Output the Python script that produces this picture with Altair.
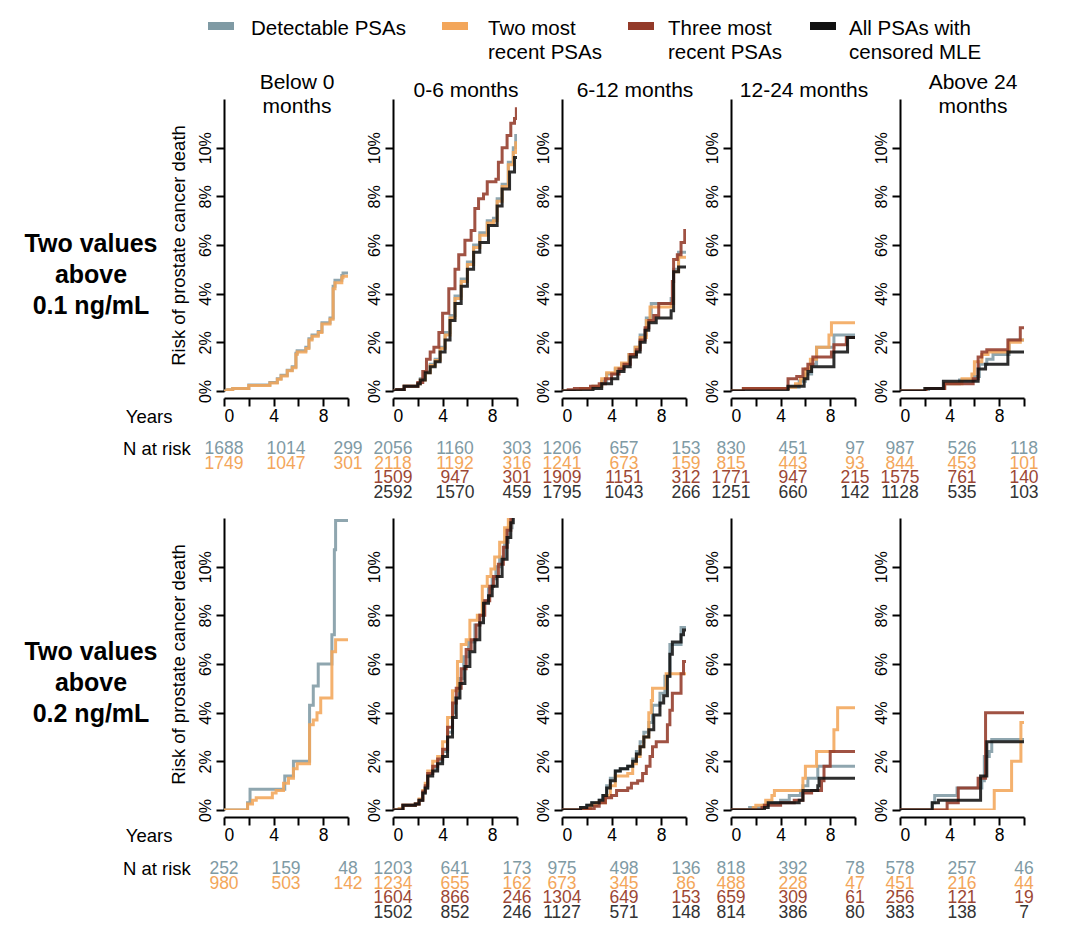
import altair as alt
import pandas as pd

FONT = "Liberation Sans"

SERIES = ["Detectable PSAs", "Two most recent PSAs", "Three most recent PSAs", "All PSAs with censored MLE"]
LEGEND_LABELS = ["Detectable PSAs", "Two most\nrecent PSAs", "Three most\nrecent PSAs", "All PSAs with\ncensored MLE"]
LINE_COLORS = ["#7f9aa4", "#f3a65a", "#933a29", "#111111"]
TEXT_COLORS = ["#7f9aa4", "#f3a65a", "#9c4735", "#333333"]

COLUMN_TITLES = [["Below 0", "months"], ["0-6 months"], ["6-12 months"], ["12-24 months"], ["Above 24", "months"]]
ROW_LABELS = ["Two values\nabove\n0.1 ng/mL", "Two values\nabove\n0.2 ng/mL"]
Y_TICKS = [0, 2, 4, 6, 8, 10]
X_TICKS = [0, 2, 4, 6, 8, 10]
RISK_TIMES = [0, 5, 10]

# ---- cumulative risk (%) step curves: (years, risk %) ----
# Row 1: two values above 0.1 ng/mL
r1c1_gray = [(0, 0), (0.3, 0.05), (0.7, 0.1), (2.0, 0.25), (3.7, 0.35), (4.3, 0.5), (4.6, 0.65), (5.1, 0.85), (5.5, 1.0), (5.8, 1.55), (5.9, 1.65), (6.6, 1.8), (6.85, 2.15), (7.1, 2.3), (7.6, 2.45), (7.9, 2.8), (8.55, 3.0), (8.8, 4.3), (8.95, 4.55), (9.5, 4.75), (9.6, 4.85), (10, 4.85)]
r1c1_orange = [(0, 0), (0.3, 0.05), (0.7, 0.1), (2.0, 0.23), (3.7, 0.33), (4.3, 0.48), (4.6, 0.62), (5.1, 0.83), (5.5, 0.96), (5.8, 1.5), (5.9, 1.6), (6.6, 1.75), (6.85, 2.1), (7.1, 2.25), (7.6, 2.4), (7.9, 2.75), (8.55, 2.95), (8.8, 4.2), (8.95, 4.45), (9.5, 4.65), (9.6, 4.72), (10, 4.72)]

r1c2_gray = [(0, 0), (0.3, 0.05), (0.9, 0.2), (2.0, 0.3), (2.2, 0.5), (2.6, 0.8), (3.0, 1.1), (3.4, 1.3), (3.8, 1.8), (4.2, 2.4), (4.6, 3.1), (5.0, 3.9), (5.5, 4.6), (6.0, 5.3), (6.5, 6.0), (7.0, 6.5), (7.6, 7.0), (8.1, 7.1), (8.4, 7.9), (8.8, 8.5), (9.3, 9.4), (9.7, 10.0), (9.9, 10.5), (10, 10.5)]
r1c2_orange = [(0, 0), (0.3, 0.05), (0.9, 0.2), (2.0, 0.3), (2.2, 0.45), (2.6, 0.75), (3.0, 1.05), (3.4, 1.25), (3.8, 1.75), (4.2, 2.3), (4.6, 3.0), (5.0, 3.8), (5.5, 4.5), (6.0, 5.2), (6.5, 5.9), (7.0, 6.4), (7.6, 6.9), (8.1, 7.0), (8.4, 7.8), (8.8, 8.4), (9.3, 9.3), (9.7, 9.8), (9.9, 10.2), (10, 10.2)]
r1c2_brown = [(0, 0), (0.3, 0.05), (0.9, 0.2), (2.0, 0.35), (2.4, 0.8), (2.7, 1.3), (3.0, 1.6), (3.3, 1.8), (3.7, 2.4), (4.0, 3.2), (4.5, 4.2), (5.0, 5.0), (5.3, 5.6), (5.8, 6.2), (6.3, 6.6), (6.6, 7.5), (6.9, 7.9), (7.3, 8.1), (7.6, 8.6), (8.3, 8.7), (8.5, 9.4), (8.8, 10.0), (9.2, 10.5), (9.5, 11.0), (9.8, 11.2), (9.95, 11.6), (10, 11.6)]
r1c2_black = [(0, 0), (0.3, 0.05), (0.9, 0.2), (2.0, 0.3), (2.2, 0.45), (2.6, 0.75), (3.0, 1.0), (3.4, 1.2), (3.8, 1.6), (4.2, 2.1), (4.6, 2.9), (5.0, 3.6), (5.5, 4.3), (6.0, 5.0), (6.5, 5.7), (7.0, 6.1), (7.7, 6.8), (8.4, 7.6), (8.8, 8.3), (9.4, 9.0), (9.8, 9.6), (10, 9.6)]

r1c3_gray = [(0, 0), (1.5, 0.1), (2.5, 0.2), (3.2, 0.4), (3.6, 0.7), (4.3, 0.9), (4.8, 1.1), (5.4, 1.5), (5.9, 1.8), (6.3, 2.3), (6.8, 3.0), (7.2, 3.6), (8.8, 3.8), (9.0, 5.0), (9.4, 5.7), (10, 5.7)]
r1c3_orange = [(0, 0), (1.5, 0.1), (2.5, 0.2), (3.2, 0.5), (3.6, 0.75), (4.3, 0.95), (4.8, 1.15), (5.4, 1.5), (5.9, 1.8), (6.3, 2.2), (6.8, 2.9), (7.1, 3.45), (8.8, 3.6), (9.0, 4.9), (9.4, 5.5), (10, 5.5)]
r1c3_brown = [(0, 0), (0.5, 0.05), (1.0, 0.1), (2.3, 0.2), (3.0, 0.3), (3.5, 0.5), (4.0, 0.7), (4.6, 0.9), (5.0, 1.1), (5.5, 1.5), (6.0, 1.7), (6.3, 2.1), (6.7, 2.6), (7.0, 2.9), (7.4, 3.1), (7.8, 3.6), (8.9, 4.5), (9.0, 5.4), (9.3, 5.6), (9.6, 6.1), (9.9, 6.6), (10, 6.6)]
r1c3_black = [(0, 0), (2.5, 0.1), (3.2, 0.3), (4.0, 0.5), (4.5, 0.8), (5.0, 1.0), (5.5, 1.4), (6.0, 1.6), (6.3, 2.0), (6.7, 2.5), (7.0, 2.8), (7.6, 3.0), (8.8, 3.3), (9.0, 4.9), (9.4, 5.1), (10, 5.1)]

r1c4_gray = [(0, 0), (1.0, 0.1), (4.6, 0.15), (5.5, 0.4), (6.0, 0.7), (6.5, 1.1), (6.9, 1.8), (8.3, 2.3), (10, 2.3)]
r1c4_orange = [(0, 0), (1.0, 0.1), (4.6, 0.15), (5.2, 0.3), (5.6, 0.5), (6.0, 0.9), (6.4, 1.3), (6.9, 1.8), (7.9, 2.3), (8.1, 2.8), (10, 2.8)]
r1c4_brown = [(0, 0), (1.0, 0.1), (4.6, 0.5), (5.3, 0.6), (5.8, 0.9), (6.2, 1.1), (6.6, 1.4), (8.1, 1.6), (8.3, 1.9), (9.3, 2.2), (10, 2.2)]
r1c4_black = [(0, 0), (4.6, 0.2), (5.9, 0.5), (6.2, 0.8), (6.5, 1.0), (8.3, 1.6), (9.4, 2.2), (10, 2.2)]

r1c5_gray = [(0, 0), (2.3, 0.1), (3.6, 0.3), (4.8, 0.45), (6.0, 0.6), (6.4, 1.1), (7.0, 1.3), (7.5, 1.5), (8.8, 2.1), (10, 2.1)]
r1c5_orange = [(0, 0), (2.1, 0.1), (3.6, 0.3), (5.0, 0.5), (5.8, 0.7), (6.0, 1.2), (6.6, 1.5), (7.1, 1.6), (8.8, 2.0), (9.7, 2.1), (10, 2.1)]
r1c5_brown = [(0, 0), (2.1, 0.1), (3.6, 0.3), (5.9, 0.5), (6.3, 1.4), (6.6, 1.6), (7.0, 1.7), (8.7, 2.1), (9.7, 2.6), (10, 2.6)]
r1c5_black = [(0, 0), (2.0, 0.1), (3.5, 0.4), (6.3, 0.9), (6.9, 1.1), (8.7, 1.6), (10, 1.6)]

# Row 2: two values above 0.2 ng/mL
r2c1_gray = [(0, 0), (1.9, 0.3), (2.1, 0.85), (4.9, 1.4), (5.6, 2.0), (6.9, 4.3), (7.2, 5.1), (7.6, 6.0), (8.7, 7.2), (8.9, 10.7), (9.0, 11.9), (10, 11.9)]
r2c1_orange = [(0, 0), (1.9, 0.25), (2.3, 0.4), (2.6, 0.5), (3.9, 0.7), (4.2, 0.8), (4.8, 1.1), (5.2, 1.3), (5.6, 1.7), (5.9, 1.9), (6.9, 3.5), (7.2, 3.7), (7.5, 4.0), (7.8, 4.6), (8.7, 6.5), (9.0, 7.0), (10, 7.0)]

r2c2_gray = [(0, 0), (0.5, 0.05), (0.8, 0.2), (1.8, 0.25), (2.1, 0.4), (2.4, 0.7), (2.6, 0.9), (2.8, 1.5), (3.2, 1.7), (3.6, 2.0), (4.0, 2.4), (4.4, 3.2), (4.8, 4.0), (5.0, 4.6), (5.3, 5.4), (5.7, 6.3), (6.1, 6.9), (6.6, 7.6), (7.0, 8.0), (7.3, 8.6), (7.7, 9.1), (8.0, 9.5), (8.3, 10.0), (8.6, 10.4), (9.0, 11.0), (9.3, 11.6), (9.6, 12.2), (10, 12.6)]
r2c2_orange = [(0, 0), (0.5, 0.05), (0.8, 0.2), (1.8, 0.25), (2.1, 0.45), (2.4, 0.8), (2.6, 1.1), (2.8, 1.6), (3.2, 2.0), (3.6, 2.2), (4.0, 2.8), (4.4, 3.8), (4.8, 4.9), (5.2, 6.1), (5.5, 6.8), (5.9, 7.0), (6.2, 7.8), (6.8, 8.0), (7.2, 9.2), (7.6, 9.6), (7.9, 9.9), (8.2, 10.4), (8.6, 11.0), (9.0, 11.6), (9.3, 12.2), (10, 12.8)]
r2c2_brown = [(0, 0), (0.8, 0.2), (1.8, 0.25), (2.1, 0.4), (2.4, 0.75), (2.6, 1.0), (2.8, 1.5), (3.2, 1.8), (3.6, 2.1), (4.0, 2.5), (4.4, 3.4), (4.8, 4.4), (5.1, 5.0), (5.5, 5.8), (5.9, 6.6), (6.3, 7.0), (6.7, 7.6), (7.0, 8.0), (7.4, 8.6), (7.8, 9.2), (8.1, 9.6), (8.5, 10.1), (8.9, 10.8), (9.2, 11.5), (9.5, 12.2), (10, 12.6)]
r2c2_black = [(0, 0), (0.8, 0.2), (1.8, 0.25), (2.1, 0.4), (2.4, 0.7), (2.6, 0.9), (2.8, 1.4), (3.2, 1.6), (3.6, 1.9), (4.0, 2.2), (4.4, 3.0), (4.8, 3.8), (5.1, 4.6), (5.4, 5.2), (5.8, 5.9), (6.2, 6.5), (6.6, 7.0), (7.0, 7.7), (7.3, 8.5), (7.7, 8.8), (8.0, 9.2), (8.4, 9.6), (8.8, 10.3), (9.2, 11.2), (9.5, 11.8), (9.7, 12.3), (10, 12.5)]

r2c3_gray = [(0, 0), (1.5, 0.1), (2.0, 0.2), (2.4, 0.3), (3.0, 0.4), (3.3, 0.6), (3.6, 1.0), (3.9, 1.3), (4.3, 1.6), (4.7, 1.7), (5.3, 1.8), (5.7, 2.1), (6.0, 2.4), (6.3, 2.8), (6.6, 3.2), (7.0, 3.6), (7.3, 4.3), (7.9, 4.8), (8.3, 5.5), (8.7, 6.8), (9.6, 7.5), (10, 7.5)]
r2c3_orange = [(0, 0), (1.8, 0.05), (2.3, 0.2), (2.8, 0.3), (3.5, 0.6), (3.9, 1.0), (4.3, 1.4), (5.3, 1.5), (5.7, 1.9), (6.0, 2.2), (6.3, 2.6), (6.6, 3.0), (7.0, 4.0), (7.2, 4.5), (7.3, 5.0), (8.4, 5.6), (10, 5.6)]
r2c3_brown = [(0, 0), (2.0, 0.05), (2.6, 0.15), (3.0, 0.3), (3.5, 0.5), (4.0, 0.6), (4.4, 0.8), (5.3, 0.9), (5.6, 1.1), (6.1, 1.2), (6.5, 1.5), (6.8, 1.8), (7.1, 2.2), (7.3, 2.6), (7.6, 2.8), (8.5, 3.5), (8.7, 4.1), (8.9, 4.8), (9.6, 5.6), (9.8, 6.1), (10, 6.1)]
r2c3_black = [(0, 0), (1.5, 0.1), (2.0, 0.2), (2.4, 0.3), (3.0, 0.4), (3.3, 0.6), (3.6, 0.9), (3.9, 1.2), (4.3, 1.6), (4.7, 1.7), (5.3, 1.8), (5.7, 2.0), (6.0, 2.3), (6.3, 2.6), (6.6, 3.0), (7.0, 3.3), (7.4, 3.9), (7.9, 4.4), (8.2, 4.7), (8.5, 5.5), (8.7, 6.4), (8.9, 6.9), (9.6, 7.2), (9.8, 7.4), (10, 7.4)]

r2c4_gray = [(0, 0), (1.5, 0.1), (2.6, 0.2), (3.0, 0.3), (4.0, 0.4), (4.7, 0.6), (5.6, 0.8), (5.8, 1.0), (6.2, 1.3), (7.0, 1.8), (10, 1.8)]
r2c4_orange = [(0, 0), (1.8, 0.1), (2.0, 0.2), (2.8, 0.4), (3.3, 0.6), (3.5, 0.8), (5.8, 1.3), (6.0, 1.8), (6.9, 2.4), (8.3, 3.3), (8.6, 4.2), (10, 4.2)]
r2c4_brown = [(0, 0), (2.5, 0.1), (2.7, 0.2), (4.0, 0.3), (5.1, 0.4), (5.8, 0.7), (6.5, 0.8), (7.3, 1.2), (7.5, 1.8), (8.0, 2.4), (10, 2.4)]
r2c4_black = [(0, 0), (2.7, 0.1), (3.0, 0.3), (5.5, 0.4), (5.8, 0.8), (7.0, 1.0), (7.1, 1.3), (10, 1.3)]

r2c5_gray = [(0, 0), (2.6, 0.3), (2.8, 0.6), (4.6, 0.9), (6.6, 1.2), (6.8, 2.2), (7.2, 2.4), (7.4, 2.9), (10, 2.9)]
r2c5_orange = [(0, 0), (7.6, 0.8), (9.0, 2.0), (9.75, 3.6), (10, 3.6)]
r2c5_brown = [(0, 0), (3.8, 0.3), (4.7, 0.9), (6.3, 1.3), (6.9, 4.0), (10, 4.0)]
r2c5_black = [(0, 0), (2.6, 0.3), (3.1, 0.4), (6.5, 1.4), (7.0, 2.8), (10, 2.8)]

# ---- number at risk at 0, 5, 10 years (5 panels x 3 times per list) ----
N1_GRAY = [1688, 1014, 299, 2056, 1160, 303, 1206, 657, 153, 830, 451, 97, 987, 526, 118]
N1_ORANGE = [1749, 1047, 301, 2118, 1192, 316, 1241, 673, 159, 815, 443, 93, 844, 453, 101]
N1_BROWN = [None, None, None, 1509, 947, 301, 1909, 1151, 312, 1771, 947, 215, 1575, 761, 140]
N1_BLACK = [None, None, None, 2592, 1570, 459, 1795, 1043, 266, 1251, 660, 142, 1128, 535, 103]
N2_GRAY = [252, 159, 48, 1203, 641, 173, 975, 498, 136, 818, 392, 78, 578, 257, 46]
N2_ORANGE = [980, 503, 142, 1234, 655, 162, 673, 345, 86, 488, 228, 47, 451, 216, 44]
N2_BROWN = [None, None, None, 1604, 866, 246, 1304, 649, 153, 659, 309, 61, 256, 121, 19]
N2_BLACK = [None, None, None, 1502, 852, 246, 1127, 571, 148, 814, 386, 80, 383, 138, 7]

CURVES = {
    (0, 0, 0): r1c1_gray, (0, 0, 1): r1c1_orange,
    (0, 1, 0): r1c2_gray, (0, 1, 1): r1c2_orange, (0, 1, 2): r1c2_brown, (0, 1, 3): r1c2_black,
    (0, 2, 0): r1c3_gray, (0, 2, 1): r1c3_orange, (0, 2, 2): r1c3_brown, (0, 2, 3): r1c3_black,
    (0, 3, 0): r1c4_gray, (0, 3, 1): r1c4_orange, (0, 3, 2): r1c4_brown, (0, 3, 3): r1c4_black,
    (0, 4, 0): r1c5_gray, (0, 4, 1): r1c5_orange, (0, 4, 2): r1c5_brown, (0, 4, 3): r1c5_black,
    (1, 0, 0): r2c1_gray, (1, 0, 1): r2c1_orange,
    (1, 1, 0): r2c2_gray, (1, 1, 1): r2c2_orange, (1, 1, 2): r2c2_brown, (1, 1, 3): r2c2_black,
    (1, 2, 0): r2c3_gray, (1, 2, 1): r2c3_orange, (1, 2, 2): r2c3_brown, (1, 2, 3): r2c3_black,
    (1, 3, 0): r2c4_gray, (1, 3, 1): r2c4_orange, (1, 3, 2): r2c4_brown, (1, 3, 3): r2c4_black,
    (1, 4, 0): r2c5_gray, (1, 4, 1): r2c5_orange, (1, 4, 2): r2c5_brown, (1, 4, 3): r2c5_black,
}
AT_RISK = [[N1_GRAY, N1_ORANGE, N1_BROWN, N1_BLACK], [N2_GRAY, N2_ORANGE, N2_BROWN, N2_BLACK]]

curve_rows = []
for (r, c, s), pts in CURVES.items():
    for t, v in pts:
        curve_rows.append({"row": r, "col": c, "series": SERIES[s], "t": t, "v": v})
curves = pd.DataFrame(curve_rows)

risk_rows = []
for r, lists in enumerate(AT_RISK):
    for s, lst in enumerate(lists):
        for c in range(5):
            for k, t in enumerate(RISK_TIMES):
                n = lst[c * 3 + k]
                if n is not None:
                    risk_rows.append({"row": r, "col": c, "series": SERIES[s], "t": t, "n": str(n)})
risk = pd.DataFrame(risk_rows)

PW, PH = 124, 292
LEFT_W = 171
GAP = 45


def panel(r, c):
    d = curves[(curves["row"] == r) & (curves["col"] == c)]
    first = c == 0
    xk = dict(values=X_TICKS, labelExpr="datum.value % 4 === 0 && datum.value < 10 ? datum.label : ''",
              offset=7, tickSize=8, tickWidth=2, domainWidth=2, domainColor="#000", tickColor="#000",
              labelColor="#000", labelFontSize=17.5, labelPadding=1, grid=False, labelFont=FONT)
    yk = dict(values=Y_TICKS, labelExpr="datum.value + '%'", labelAngle=270, labelAlign="center",
              labelBaseline="bottom", tickSize=8, tickWidth=2, domainWidth=2, domainColor="#000",
              tickColor="#000", labelColor="#000", labelFontSize=16, labelPadding=3, grid=False, labelFont=FONT)
    if first:
        xk.update(titleX=-52, titleY=18, titleAlign="right", titleBaseline="middle", titleFontSize=18.5,
                  titleFontWeight="normal", titleColor="#000", titleFont=FONT, titleAngle=0)
        yk.update(titleX=-46, titleY=PH / 2, titleAlign="center", titleBaseline="middle", titleFontSize=18.5,
                  titleFontWeight="normal", titleColor="#000", titleFont=FONT, titleAngle=270)
    x = alt.X("t:Q", scale=alt.Scale(domain=[0, 10], nice=False, zero=False), axis=alt.Axis(**xk),
              title="Years" if first else None)
    y = alt.Y("v:Q", scale=alt.Scale(domain=[0, 12], nice=False), axis=alt.Axis(**yk),
              title="Risk of prostate cancer death" if first else None)
    color = alt.Color("series:N", scale=alt.Scale(domain=SERIES, range=LINE_COLORS), legend=None)
    layers = []
    for s in SERIES:
        ds = d[d["series"] == s]
        if len(ds) == 0:
            continue
        layers.append(alt.Chart(ds).mark_line(interpolate="step-after", strokeWidth=3, opacity=0.88,
                                               clip=True).encode(x=x, y=y, color=color))
    ch = alt.layer(*layers).properties(width=PW, height=PH)
    if r == 0:
        two = len(COLUMN_TITLES[c]) > 1
        ch = ch.properties(title=alt.TitleParams(text=COLUMN_TITLES[c], fontSize=21, fontWeight="normal",
                                                 font=FONT, color="#000", dx=11, anchor="middle",
                                                 baseline="middle", lineHeight=24, offset=-29 if two else -13))
    return ch


def row_label(r, ypos, with_legend):
    layers = [alt.Chart(pd.DataFrame({"label": [ROW_LABELS[r]]})).mark_text(
        lineBreak="\n", font=FONT, fontSize=25, fontWeight="bold", align="center", baseline="middle",
        lineHeight=31, color="#000").encode(text="label:N", x=alt.value(83), y=alt.value(ypos))]
    if with_legend:
        # legend block placed above the first row of panels
        sw_x = [213, 447, 633, 815]
        tx_x = [243, 480, 660, 841]
        for i, s in enumerate(SERIES):
            base = alt.Chart(pd.DataFrame({"series": [s], "label": [LEGEND_LABELS[i]]}))
            layers.append(base.mark_point(shape="M-1,-0.31L1,-0.31L1,0.31L-1,0.31Z", filled=True, size=676,
                                          opacity=1, strokeWidth=0, color=LINE_COLORS[i]).encode(
                x=alt.value(sw_x[i]), y=alt.value(-73)))
            layers.append(base.mark_text(lineBreak="\n", font=FONT, fontSize=20.5, align="left",
                                         baseline="alphabetic", lineHeight=24, color="#000").encode(
                text="label:N", x=alt.value(tx_x[i]), y=alt.value(-64.5)))
    return alt.layer(*layers).properties(width=LEFT_W, height=PH)


def table(r, c, h, rng):
    d = risk[(risk["row"] == r) & (risk["col"] == c)]
    return alt.Chart(d).mark_text(font=FONT, fontSize=17.5, baseline="middle", align="center").encode(
        x=alt.X("t:Q", scale=alt.Scale(domain=[0, 10], nice=False, zero=False), axis=None),
        y=alt.Y("series:N", scale=alt.Scale(domain=SERIES, range=rng, padding=0), axis=None),
        fill=alt.Fill("series:N", scale=alt.Scale(domain=SERIES, range=TEXT_COLORS), legend=None),
        text="n:N").properties(width=PW, height=h)


def table_label(h, rng):
    return alt.Chart(pd.DataFrame({"label": ["N at risk"]})).mark_text(
        font=FONT, fontSize=18.5, align="left", baseline="middle", color="#000").encode(
        text="label:N", x=alt.value(115), y=alt.value(rng[0])).properties(width=LEFT_W, height=h)


T1_H, T1_R = 127, [58, 102]
T2_H, T2_R = 112, [59, 103]

cells = [row_label(0, 145, True)] + [panel(0, c) for c in range(5)]
cells += [table_label(T1_H, T1_R)] + [table(0, c, T1_H, T1_R) for c in range(5)]
cells += [row_label(1, 134, False)] + [panel(1, c) for c in range(5)]
cells += [table_label(T2_H, T2_R)] + [table(1, c, T2_H, T2_R) for c in range(5)]

chart = alt.concat(*cells, columns=6, spacing={"row": 0, "column": GAP}, bounds="flush",
                   padding={"top": 10, "left": 0, "right": 0, "bottom": 0})
chart = chart.configure(font=FONT).configure_view(stroke=None)

chart.save("out.html", embed_options={"renderer": "svg", "actions": False})
